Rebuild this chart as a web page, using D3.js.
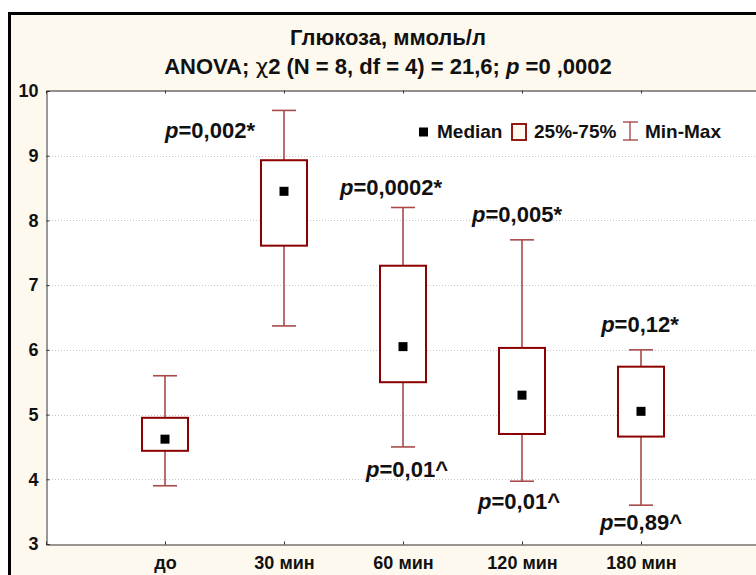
<!DOCTYPE html>
<html>
<head>
<meta charset="utf-8">
<script src="https://cdn.jsdelivr.net/npm/d3@7"></script>
<style>
  html, body { margin: 0; padding: 0; background: #fff; }
  svg { display: block; font-family: "Liberation Sans", Arial, sans-serif; font-weight: bold; }
</style>
</head>
<body>
<svg id="chart" width="756" height="575"></svg>
<script>
// Glucose, mmol/L — box plots by time point
const categories = ["до", "30 мин", "60 мин", "120 мин", "180 мин"];
const minValues    = [3.90, 6.37, 4.50, 3.97, 3.60];
const q1Values     = [4.44, 7.61, 5.50, 4.70, 4.66];
const medianValues = [4.62, 8.45, 6.05, 5.30, 5.05];
const q3Values     = [4.95, 8.93, 7.30, 6.03, 5.74];
const maxValues    = [5.60, 9.70, 8.20, 7.70, 6.00];
const yTicks = [3, 4, 5, 6, 7, 8, 9, 10];

// p-value annotations: category, text after "p", vertical position in data units, horizontal nudge
const noteCategory = ["30 мин", "60 мин", "120 мин", "180 мин", "60 мин", "120 мин", "180 мин"];
const noteText     = ["=0,002*", "=0,0002*", "=0,005*", "=0,12*", "=0,01^", "=0,01^", "=0,89^"];
const noteValue    = [9.27, 8.39, 7.98, 6.28, 4.03, 3.54, 3.22];
const noteShift    = [-74, -12, -5, -1, 4, -3, 0];

const titleLines = ["Глюкоза, ммоль/л"];

const svg = d3.select("#chart");
const W = 756, H = 575;
const plot = { left: 46, top: 91, right: 760, bottom: 544 };

const boxColor = "#8b0000";
const whiskerColor = "#a84a4a";

// outer panel
svg.append("rect")
  .attr("x", 9.5).attr("y", 13.5)
  .attr("width", W + 20).attr("height", H + 20)
  .attr("fill", "#fef9ee")
  .attr("stroke", "#000").attr("stroke-width", 3);

// plot area
svg.append("rect")
  .attr("x", plot.left).attr("y", plot.top)
  .attr("width", plot.right - plot.left).attr("height", plot.bottom - plot.top)
  .attr("fill", "#fff");

const x = d3.scalePoint().domain(categories).range([plot.left, plot.right]).padding(1);
const y = d3.scaleLinear().domain([3, 10]).range([plot.bottom, plot.top]);

// horizontal dotted grid
svg.append("g")
  .selectAll("line")
  .data(yTicks.filter(t => t > 3 && t < 10))
  .join("line")
  .attr("x1", plot.left).attr("x2", plot.right)
  .attr("y1", d => Math.round(y(d)) + 0.5).attr("y2", d => Math.round(y(d)) + 0.5)
  .attr("stroke", "#c8c8c8").attr("stroke-dasharray", "1,2");

// axes
const yAxis = d3.axisLeft(y).tickValues(yTicks).tickSize(-3).tickPadding(8).tickFormat(d3.format("d"));
const gy = svg.append("g").attr("transform", `translate(${plot.left + 0.5},0)`).call(yAxis);
gy.select(".domain").attr("stroke", "#333");
gy.selectAll(".tick line").attr("stroke", "#333");
gy.selectAll("text").attr("font-size", 18).attr("font-weight", "bold").attr("fill", "#111")
  .attr("font-family", "Liberation Sans, Arial, sans-serif");

const xAxis = d3.axisBottom(x).tickSize(-3).tickPadding(12);
const gx = svg.append("g").attr("transform", `translate(0,${plot.bottom + 0.5})`).call(xAxis);
gx.select(".domain").attr("stroke", "#333");
gx.selectAll(".tick line").attr("stroke", "#333");
gx.selectAll("text").attr("font-size", 18).attr("font-weight", "bold").attr("fill", "#111")
  .attr("font-family", "Liberation Sans, Arial, sans-serif");

const xTop = d3.axisTop(x).tickSize(-3).tickFormat("");
const gt = svg.append("g").attr("transform", `translate(0,${plot.top - 0.5})`).call(xTop);
gt.select(".domain").attr("stroke", "#222");
gt.selectAll(".tick line").attr("stroke", "#333");

// box plots
const boxW = 46, capW = 24;
const boxes = svg.append("g")
  .selectAll("g")
  .data(categories.map((c, i) => ({ c, min: minValues[i], q1: q1Values[i], med: medianValues[i], q3: q3Values[i], max: maxValues[i] })))
  .join("g")
  .attr("transform", d => `translate(${x(d.c)},0)`);

boxes.append("line")
  .attr("x1", 0).attr("x2", 0)
  .attr("y1", d => y(d.max)).attr("y2", d => y(d.min))
  .attr("stroke", whiskerColor).attr("stroke-width", 1.6);
boxes.append("line")
  .attr("x1", -capW / 2).attr("x2", capW / 2)
  .attr("y1", d => y(d.max)).attr("y2", d => y(d.max))
  .attr("stroke", whiskerColor).attr("stroke-width", 1.6);
boxes.append("line")
  .attr("x1", -capW / 2).attr("x2", capW / 2)
  .attr("y1", d => y(d.min)).attr("y2", d => y(d.min))
  .attr("stroke", whiskerColor).attr("stroke-width", 1.6);
boxes.append("rect")
  .attr("x", -boxW / 2).attr("width", boxW)
  .attr("y", d => y(d.q3)).attr("height", d => y(d.q1) - y(d.q3))
  .attr("fill", "#fff").attr("stroke", boxColor).attr("stroke-width", 2);
boxes.append("rect")
  .attr("x", -4.5).attr("width", 9)
  .attr("y", d => y(d.med) - 4.5).attr("height", 9)
  .attr("fill", "#000");

// p-value notes
const notes = svg.append("g").attr("font-size", 22).attr("text-anchor", "middle").attr("fill", "#111");
noteText.forEach((t, i) => {
  const txt = notes.append("text")
    .attr("x", x(noteCategory[i]) + noteShift[i])
    .attr("y", y(noteValue[i]));
  txt.append("tspan").attr("font-style", "italic").text("p");
  txt.append("tspan").text(t);
});

// title
const title = svg.append("g").attr("text-anchor", "middle").attr("fill", "#111");
title.append("text").attr("x", 388).attr("y", 45).attr("font-size", 22).text(titleLines[0]);
const t2 = title.append("text").attr("x", 388).attr("y", 74).attr("font-size", 22);
t2.append("tspan").text("ANOVA; ");
t2.append("tspan").attr("font-family", "DejaVu Sans").attr("font-weight", "normal").text("χ");
t2.append("tspan").text("2 (N = 8, df = 4) = 21,6; ");
t2.append("tspan").attr("font-style", "italic").text("p");
t2.append("tspan").text(" =0 ,0002");

// legend
const lg = svg.append("g").attr("font-size", 19).attr("fill", "#111");
const ly = 132;
lg.append("rect").attr("x", 419).attr("y", ly - 4.5).attr("width", 9).attr("height", 9).attr("fill", "#000");
lg.append("text").attr("x", 437).attr("y", ly + 6).text("Median");
lg.append("rect").attr("x", 512).attr("y", ly - 8).attr("width", 14).attr("height", 16)
  .attr("fill", "#fef9ee").attr("stroke", boxColor).attr("stroke-width", 1.8);
lg.append("text").attr("x", 534).attr("y", ly + 6).text("25%-75%");
lg.append("line").attr("x1", 630).attr("x2", 630).attr("y1", ly - 10).attr("y2", ly + 8)
  .attr("stroke", whiskerColor).attr("stroke-width", 1.4);
lg.append("line").attr("x1", 623).attr("x2", 638).attr("y1", ly - 10).attr("y2", ly - 10)
  .attr("stroke", whiskerColor).attr("stroke-width", 1.4);
lg.append("line").attr("x1", 623).attr("x2", 638).attr("y1", ly + 8).attr("y2", ly + 8)
  .attr("stroke", whiskerColor).attr("stroke-width", 1.4);
lg.append("text").attr("x", 645).attr("y", ly + 6).text("Min-Max");
</script>
</body>
</html>
